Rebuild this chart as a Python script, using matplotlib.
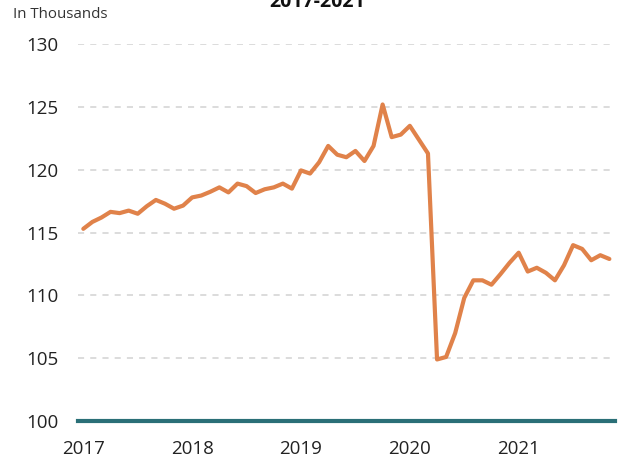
import matplotlib.pyplot as plt
import numpy as np

plt.rcParams['font.family'] = ['Open Sans', 'DejaVu Sans']

# monthly values, Jan 2017 - Nov 2021 (in thousands)
months = np.arange(59)
values = [115.3, 115.85, 116.2, 116.65, 116.55, 116.75, 116.5, 117.1, 117.6, 117.3,
          116.9, 117.15, 117.8, 117.95, 118.25, 118.6, 118.2, 118.9, 118.7, 118.15,
          118.45, 118.6, 118.9, 118.5, 119.95, 119.7, 120.6, 121.9, 121.2, 121.0,
          121.5, 120.7, 121.9, 125.2, 122.6, 122.8, 123.5, 122.4, 121.3, 104.9,
          105.1, 107.0, 109.8, 111.2, 111.2, 110.85, 111.7, 112.6, 113.4, 111.9,
          112.2, 111.8, 111.2, 112.4, 114.0, 113.7, 112.8, 113.2, 112.9]
year_ticks = [0, 12, 24, 36, 48]
year_labels = ['2017', '2018', '2019', '2020', '2021']
y_ticks = [100, 105, 110, 115, 120, 125, 130]

fig = plt.figure(figsize=(6.28, 4.65), dpi=100)
ax = fig.add_axes([0.124, 0.0946, 0.855, 0.8104])

ax.plot(months, values, color='#E0824A', linewidth=3.0,
        solid_joinstyle='round', solid_capstyle='round', zorder=3)

ax.set_xlim(-0.6, 58.6)
ax.set_ylim(100, 130)
ax.set_yticks(y_ticks)
ax.set_xticks(year_ticks)
ax.set_xticklabels(year_labels)

# light dashed gridlines, teal baseline at 100
for yv in y_ticks[1:]:
    ax.axhline(yv, color='#d2d2d2', linewidth=1.1, dashes=(4, 4), zorder=1)
ax.axhline(100, color='#2A6F77', linewidth=3, clip_on=False, zorder=4)

for s in ax.spines.values():
    s.set_visible(False)
ax.tick_params(axis='both', length=0, labelsize=13.5, colors='#222222')
ax.tick_params(axis='y', pad=14)
ax.tick_params(axis='x', pad=14)

fig.text(13 / 628, 1 - 14 / 465, 'In Thousands', fontsize=10.8, va='center',
         ha='left', color='#333333')
fig.text(0.505, 1 - 7 / 465, '2017-2021', fontsize=14, fontweight='bold',
         ha='center', va='baseline', color='#111111')

plt.savefig('out.png', dpi=100)
